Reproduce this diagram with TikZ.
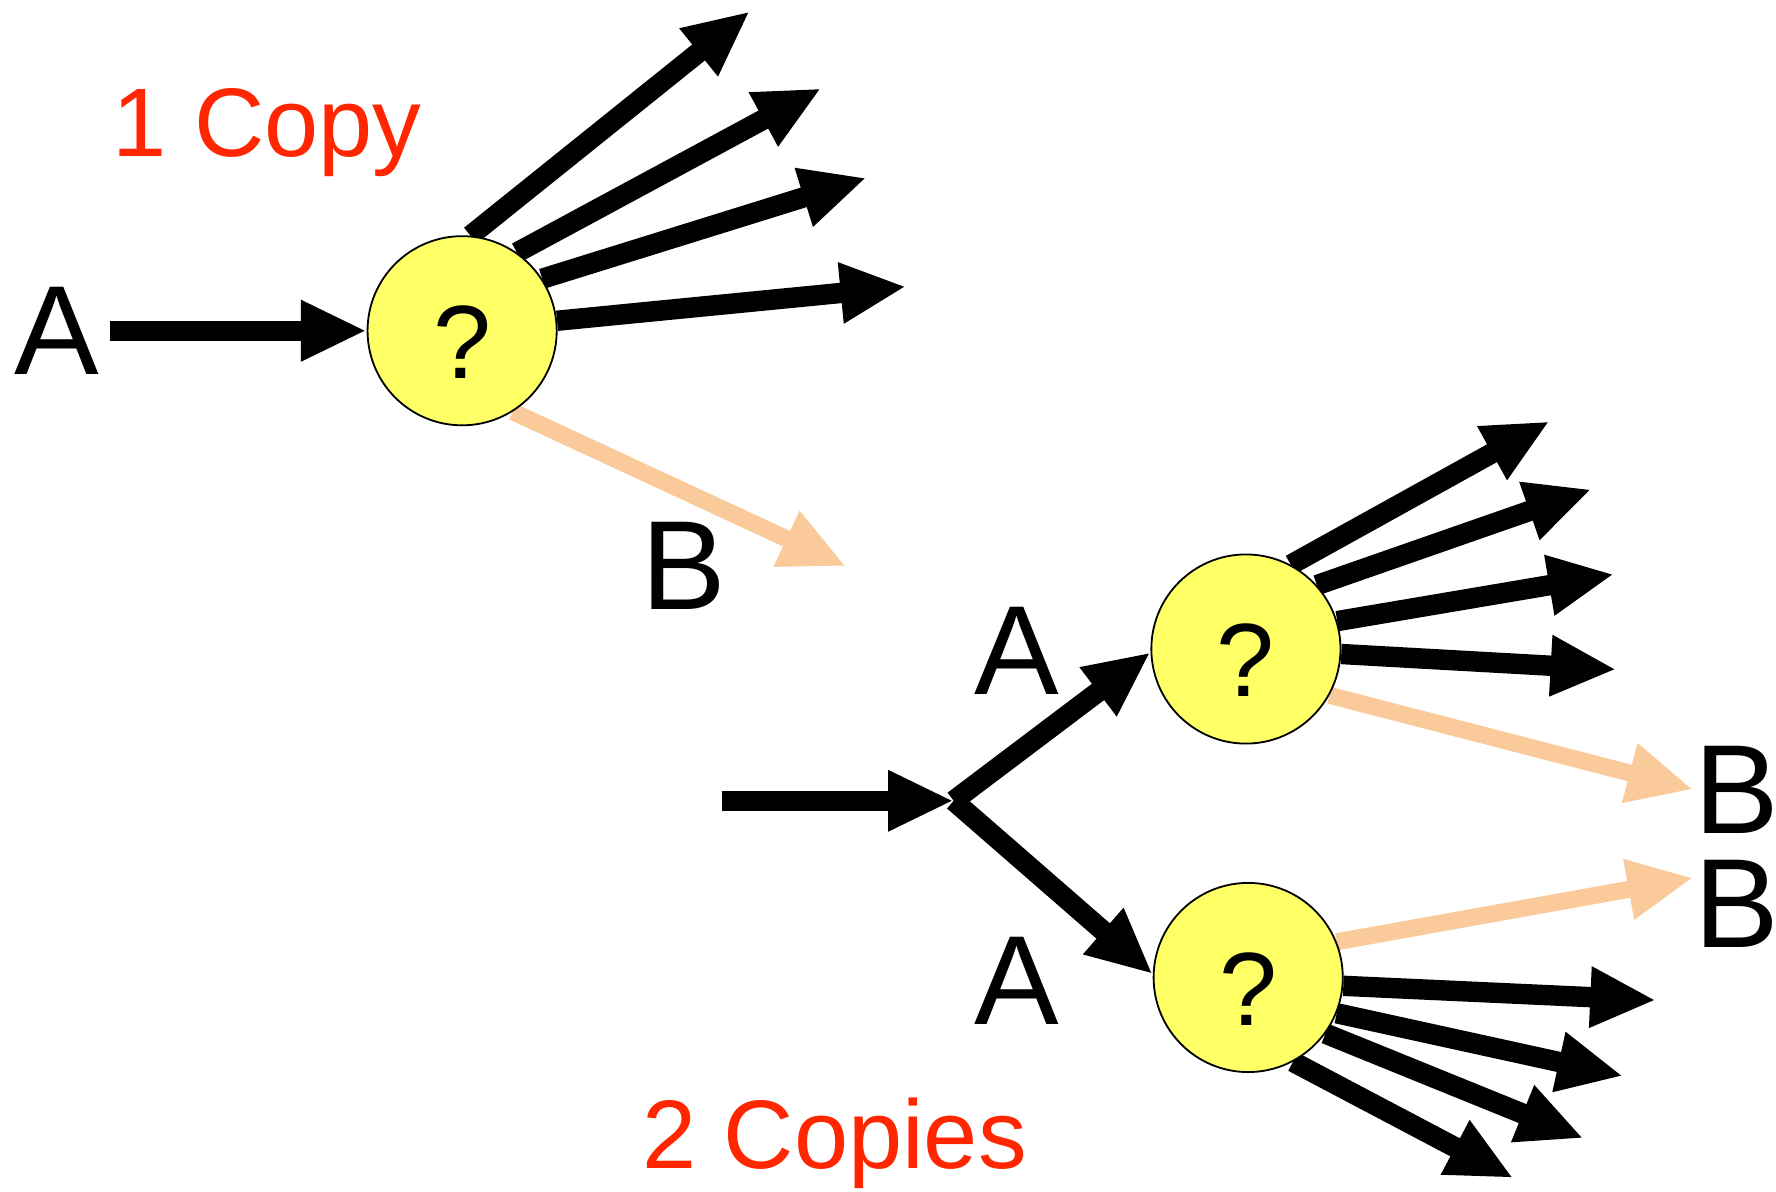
\documentclass[tikz,border=0pt]{standalone}
\usepackage{fontspec}
\setmainfont{Liberation Sans}
\usetikzlibrary{arrows.meta,backgrounds}

\definecolor{qyellow}{RGB}{255,255,102}
\definecolor{peach}{RGB}{250,202,155}
\definecolor{copyred}{RGB}{255,38,0}

\tikzset{every picture/.style={line width=0.75pt},
  qnode/.style={circle,draw=black,fill=qyellow,line width=1.6pt,minimum size=167pt,inner sep=0pt,
    font=\fontsize{92}{92}\selectfont},
  big/.style={font=\fontsize{112}{112}\selectfont},
  redtext/.style={text=copyred,font=\fontsize{86}{86}\selectfont},
  fat/.style={line width=18pt,-{Triangle[length=58pt,width=50pt]}},
  pale/.style={fat,line width=15pt,draw=peach}}
% question mark sitting a little below the centre
\newcommand{\qmark}{\raisebox{-42pt}[0pt][0pt]{?}}

\begin{document}
\begin{tikzpicture}[x=1pt,y=1pt,yscale=-1,xscale=1]
\useasboundingbox (0,0) rectangle (1568,1052);

% the three question nodes
\node[qnode] (q1) at (408,292) {\qmark};
\node[qnode] (q2) at (1100,573) {\qmark};
\node[qnode] (q3) at (1102,863) {\qmark};

% free ends of the arrows
\coordinate (in1) at (97,292);
\coordinate (a1) at (662,10);
\coordinate (a2) at (725,78);
\coordinate (a3) at (765,157);
\coordinate (a4) at (800,253);
\coordinate (b1) at (747,500);
\coordinate (in2) at (637,707);
\coordinate (fork) at (842,707);
\coordinate (c1) at (1368,372);
\coordinate (c2) at (1405,432);
\coordinate (c3) at (1425,507);
\coordinate (c4) at (1427,591);
\coordinate (b2) at (1495,697);
\coordinate (b3) at (1495,775);
\coordinate (d1) at (1462,883);
\coordinate (d2) at (1433,950);
\coordinate (d3) at (1398,1005);
\coordinate (d4) at (1336,1040);

\begin{pgfonlayer}{background}
% 1 copy
\draw[fat] (in1) -- (q1.west);
\draw[fat] (q1.85) -- (a1);
\draw[fat] (q1.55) -- (a2);
\draw[fat] (q1.33) -- (a3);
\draw[fat] (q1.6) -- (a4);
\draw[pale] (q1.-58) -- (b1);
% 2 copies
\draw[fat] (in2) -- (fork);
\draw[fat,line join=round] (fork) -- (q2.182);
\draw[fat,line join=round] (fork) -- (q3.178);
\draw[fat] (q2.62) -- (c1);
\draw[fat] (q2.42) -- (c2);
\draw[fat] (q2.17) -- (c3);
\draw[fat] (q2.-3) -- (c4);
\draw[pale] (q2.-29) -- (b2);
\draw[pale] (q3.22) -- (b3);
\draw[fat] (q3.-5) -- (d1);
\draw[fat] (q3.-22) -- (d2);
\draw[fat] (q3.-36) -- (d3);
\draw[fat] (q3.-62) -- (d4);
\end{pgfonlayer}

% Text Node
\node[big] (la1) at (50,292) {A};
% Text Node
\node[big] (lb1) at (604,500) {B};
% Text Node
\node[big] (la2) at (898,575) {A};
% Text Node
\node[big] (la3) at (898,866) {A};
% Text Node
\node[big] (lb2) at (1533,697) {B};
% Text Node
\node[big] (lb3) at (1533,798) {B};
% Text Node
\node[redtext] (one) at (236,117) {1 Copy};
% Text Node
\node[redtext] (two) at (737,1009) {2 Copies};

\end{tikzpicture}
\end{document}
